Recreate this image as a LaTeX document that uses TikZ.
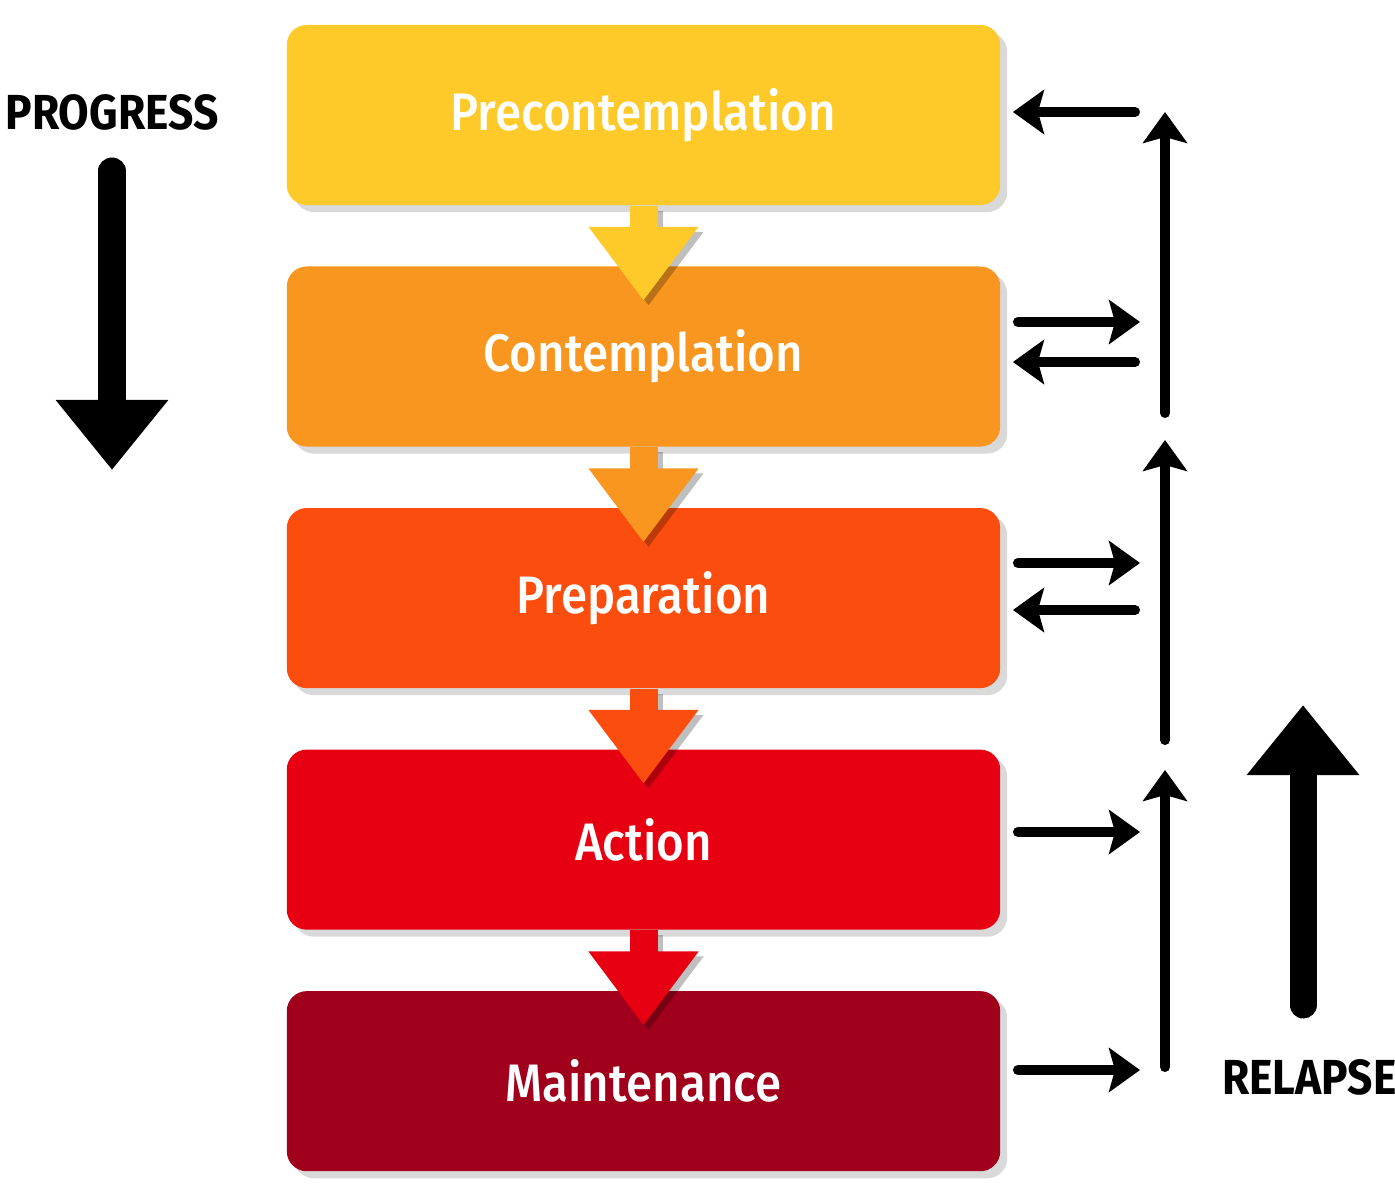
\documentclass[tikz,border=0pt]{standalone}
\usepackage{fontspec}
\setsansfont{Fira Sans}[FakeStretch=0.9, BoldFont={Fira Sans Medium}]
\newfontfamily\tagfont{Fira Sans}[FakeStretch=0.9]
\usetikzlibrary{arrows.meta,shadows,positioning}
\definecolor{cPre}{HTML}{FDCA2A}
\definecolor{cCon}{HTML}{F8961F}
\definecolor{cPrep}{HTML}{FB4D0D}
\definecolor{cAct}{HTML}{E60012}
\definecolor{cMnt}{HTML}{A0001C}
\tikzset{
  stage/.style={fill=#1, rounded corners=0.2cm, minimum width=7.13cm, minimum height=1.8cm,
    text=white, font=\sffamily\bfseries\fontsize{15}{17}\selectfont,
    drop shadow={shadow xshift=0.07cm, shadow yshift=-0.07cm, opacity=0.3}},
  flow/.style={draw=#1, line width=0.28cm, line cap=butt, -{Triangle[width=1.05cm,length=0.74cm]}},
  big/.style={line width=0.27cm, -{Triangle[width=1.08cm,length=0.7cm]}},
  back/.style={line width=0.1cm, -{Stealth[width=0.44cm,length=0.31cm,inset=0.06cm]}},
  tag/.style={font=\tagfont\bfseries\fontsize{14}{16}\selectfont, inner sep=0pt}
}
\begin{document}
\begin{tikzpicture}[x=0.01cm, y=0.01cm, line join=round, line cap=round]
  \def\xa{1017} \def\xb{1135} \def\xv{1165} % right column
  \useasboundingbox (0,0) rectangle (1395,1200);
  % stages
  \node[stage=cPre] (pre) at (643.5,1085) {Precontemplation};
  \node[stage=cCon, below=0.6cm of pre] (con) {Contemplation};
  \node[stage=cPrep, below=0.6cm of con] (prep) {Preparation};
  \node[stage=cAct, below=0.6cm of prep] (act) {Action};
  \node[stage=cMnt, below=0.6cm of act] (mnt) {Maintenance};
  \foreach \a/\b/\c in {pre/con/cPre, con/prep/cCon, prep/act/cPrep, act/mnt/cAct}{
    \draw[flow=black, opacity=0.25, transform canvas={shift={(0.05cm,-0.05cm)}}] (\a.south) -- ([yshift=-0.35cm]\b.north);
    \draw[flow=\c] (\a.south) -- ([yshift=-0.35cm]\b.north);
  }
  % progress / relapse
  \node[tag] (progress) at (112,1088) {PROGRESS};
  \coordinate (p0) at (112,1029); \coordinate (p1) at (112,730);
  \draw[big] (p0) -- (p1);
  \node[tag, anchor=east] (relapse) at (1397,123) {RELAPSE};
  \coordinate (r0) at (1303,195); \coordinate (r1) at (1303,495);
  \draw[big] (r0) -- (r1);
  % relapse column
  \coordinate (v1a) at (\xv,787); \coordinate (v1b) at (\xv,1088);
  \coordinate (v2a) at (\xv,460); \coordinate (v2b) at (\xv,760);
  \coordinate (v3a) at (\xv,133); \coordinate (v3b) at (\xv,430);
  \draw[back] (v1a) -- (v1b);
  \draw[back] (v2a) -- (v2b);
  \draw[back] (v3a) -- (v3b);
  \coordinate (h1) at (\xb,1088);
  \coordinate (h2) at (\xb,878); \coordinate (h3) at (\xb,838);
  \coordinate (h4) at (\xb,637); \coordinate (h5) at (\xb,590);
  \coordinate (h6) at (\xb,368); \coordinate (h7) at (\xb,130);
  \draw[back] (h1) -- ([xshift=0.12cm]pre.east |- h1);
  \draw[back] ([xshift=0.17cm]con.east |- h2) -- ([xshift=0.05cm]h2);
  \draw[back] (h3) -- ([xshift=0.12cm]con.east |- h3);
  \draw[back] ([xshift=0.17cm]prep.east |- h4) -- ([xshift=0.05cm]h4);
  \draw[back] (h5) -- ([xshift=0.12cm]prep.east |- h5);
  \draw[back] ([xshift=0.17cm]act.east |- h6) -- ([xshift=0.05cm]h6);
  \draw[back] ([xshift=0.17cm]mnt.east |- h7) -- ([xshift=0.05cm]h7);
\end{tikzpicture}
\end{document}
